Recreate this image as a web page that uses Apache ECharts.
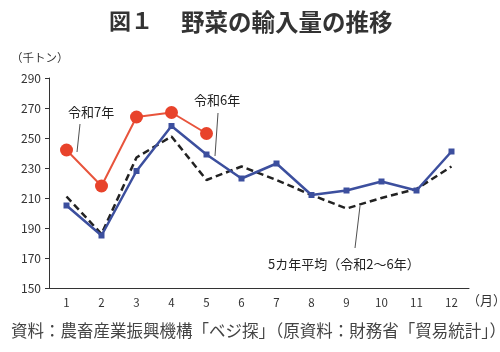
<!DOCTYPE html>
<html><head><meta charset="utf-8">
<script src="https://cdn.jsdelivr.net/npm/echarts@6/dist/echarts.min.js"></script>
<style>html,body{margin:0;padding:0;background:#fff}#c{width:500px;height:352px}</style>
</head><body><div id="c"></div>
<script>
const months = ['1','2','3','4','5','6','7','8','9','10','11','12'];
const r7 = [242, 218, 264, 267, 253];
const r6 = [205, 185, 228, 258, 239, 223, 233, 212, 215, 221, 215, 241];
const avg5 = [211, 186, 237, 251, 222, 231, 222, 212, 203, 210, 216, 231];
const yTicks = {min:150, max:290, interval:20};

const font = '"Noto Sans CJK JP", "Noto Sans", sans-serif';
const chart = echarts.init(document.getElementById('c'));
chart.setOption({
  animation:false,
  textStyle:{fontFamily:font},
  grid:{left:49, top:78, width:420, height:210, containLabel:false},
  xAxis:{type:'category', data:months, boundaryGap:true,
    axisLine:{lineStyle:{color:'#333', width:1}},
    axisTick:{inside:true, length:4, lineStyle:{color:'#333'}},
    axisLabel:{color:'#333', fontSize:11.5, margin:9, fontFamily:font},
    splitLine:{show:false}},
  yAxis:{type:'value', min:yTicks.min, max:yTicks.max, interval:yTicks.interval,
    axisLine:{show:true, lineStyle:{color:'#333', width:1}},
    axisTick:{show:true, length:4, lineStyle:{color:'#333'}},
    axisLabel:{color:'#333', fontSize:12, margin:8, fontFamily:font},
    splitLine:{show:false}},
  series:[
    {name:'5カ年平均', type:'line', data:avg5, symbol:'none',
      lineStyle:{color:'#222', width:2.5, type:[7,4]}, z:2},
    {name:'令和6年', type:'line', data:r6, symbol:'rect', symbolSize:6,
      itemStyle:{color:'#3c4f9e'}, lineStyle:{color:'#3c4f9e', width:2.5}, z:3},
    {name:'令和7年', type:'line', data:r7, symbol:'circle', symbolSize:13,
      itemStyle:{color:'#e8432b'}, lineStyle:{color:'#e8543c', width:2}, z:4}
  ],
  graphic:[
    {type:'text', left:109, top:10, style:{text:'図１', fill:'#333', font:'bold 22px '+font}},
    {type:'text', left:181, top:10, style:{text:'野菜の輸入量の推移', fill:'#333', font:'bold 23.5px '+font}},
    {type:'text', left:11, top:52, style:{text:'（千トン）', fill:'#333', font:'11.5px '+font}},
    {type:'text', left:467, top:294, style:{text:'（月）', fill:'#333', font:'13px '+font}},
    {type:'text', left:68, top:106, style:{text:'令和7年', fill:'#222', font:'13px '+font}},
    {type:'line', shape:{x1:80, y1:124, x2:77, y2:152}, style:{stroke:'#222', lineWidth:0.8}},
    {type:'text', left:194, top:94, style:{text:'令和6年', fill:'#222', font:'13px '+font}},
    {type:'line', shape:{x1:218, y1:113, x2:215, y2:156}, style:{stroke:'#222', lineWidth:0.8}},
    {type:'text', left:268, top:258, style:{text:'5カ年平均（令和2～6年）', fill:'#222', font:'13px '+font}},
    {type:'line', shape:{x1:360, y1:206, x2:355, y2:248}, style:{stroke:'#222', lineWidth:0.8}},
    {type:'text', left:11, top:322, style:{text:'資料：農畜産業振興機構「ベジ探」（原資料：財務省「貿易統計」）', fill:'#444', font:'16.5px '+font}}
  ]
});
</script></body></html>
